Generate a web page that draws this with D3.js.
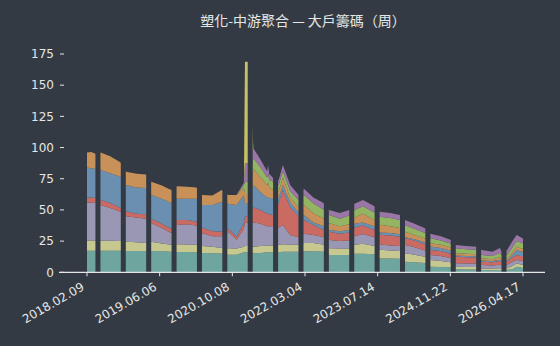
<!DOCTYPE html>
<html>
<head>
<meta charset="utf-8">
<script src="https://cdn.jsdelivr.net/npm/d3@7"></script>
<style>
  html, body { margin: 0; padding: 0; background: #333a43; }
  svg { display: block; }
  text { font-family: "DejaVu Sans", sans-serif; }
</style>
</head>
<body>
<svg id="chart" width="560" height="346"></svg>
<script>
// week index of each sample
const weeks = [0, 4, 8, 13, 22, 32, 37, 47, 56, 61, 71, 80, 85, 95, 104, 109, 119, 128, 134, 142, 149, 150, 153,
  158, 165, 171, 172, 173, 177, 182, 186, 193, 201, 206, 215, 225, 230, 240, 249, 254, 262, 273,
  278, 288, 297, 302, 311, 321, 326, 336, 345, 350, 360, 370, 375, 385, 392, 394, 399, 404, 408, 411, 414];

const teal = [17.3, 17.3, 17.3, 17.3, 17.3, 17.3, 17.0, 17.0, 17.0, 17.0, 16.8, 16.5, 16.3, 16.2, 16.0, 15.5, 15.2, 15.0, 14.0, 14.0, 16.0, 16.0, 16.0,
  15.2, 15.5, 16.0, 16.0, 16.0, 16.0, 16.0, 16.5, 16.5, 16.5, 16.8, 16.8, 16.5, 13.9, 13.9, 13.8, 14.8, 14.8, 14.5,
  11.2, 11.0, 10.8, 8.5, 8.0, 7.5, 4.5, 4.2, 4.0, 2.4, 2.3, 2.2, 1.8, 1.7, 1.8, 1.7, 2.0, 2.5, 4.5, 4.0, 3.5];
const cream = [8.0, 8.2, 8.2, 8.2, 8.0, 7.7, 7.5, 7.0, 6.5, 7.5, 6.2, 5.5, 6.2, 6.1, 6.0, 5.5, 5.3, 4.5, 5.2, 5.0, 4.5, 5.0, 5.0,
  5.3, 5.5, 5.5, 5.5, 5.5, 5.5, 6.0, 6.0, 5.5, 5.5, 6.7, 6.7, 5.5, 5.3, 5.1, 5.2, 7.2, 8.0, 6.5,
  6.9, 6.5, 6.2, 6.7, 6.0, 5.0, 5.4, 4.8, 4.0, 2.1, 2.0, 2.0, 1.3, 1.3, 1.4, 1.3, 1.5, 2.5, 2.7, 2.5, 2.5];
const lavender = [30.7, 30.5, 30.0, 28.5, 26.2, 23.6, 20.5, 20.0, 19.5, 15.0, 12.5, 9.5, 15.5, 16.2, 15.5, 10.5, 8.5, 9.5, 13.4, 7.0, 14.5, 19.0, 19.0,
  19.5, 18.0, 15.5, 15.5, 15.5, 15.5, 14.0, 15.5, 8.0, 6.0, 7.5, 6.5, 6.0, 6.7, 6.0, 6.5, 7.0, 8.0, 7.0,
  4.1, 4.0, 4.0, 6.6, 6.0, 5.0, 4.0, 4.0, 3.5, 2.7, 2.7, 2.8, 2.7, 2.5, 2.8, 2.5, 2.5, 3.5, 2.7, 3.0, 3.0];
const red = [4.0, 4.0, 4.0, 4.0, 4.0, 2.9, 4.0, 3.0, 3.5, 3.5, 3.5, 3.5, 4.0, 3.5, 3.0, 4.5, 4.0, 3.5, 2.4, 2.5, 4.5, 5.0, 5.0,
  12.0, 11.0, 10.0, 10.0, 9.5, 9.0, 20.0, 28.0, 22.0, 17.0, 11.0, 8.0, 6.0, 6.7, 6.0, 6.5, 7.0, 6.7, 6.0,
  8.0, 8.0, 7.5, 5.4, 5.5, 5.0, 4.0, 4.0, 3.5, 5.4, 5.0, 4.8, 2.7, 2.5, 3.0, 2.5, 2.5, 3.5, 4.0, 3.5, 4.0];
const blue = [24.0, 23.5, 23.5, 24.0, 24.0, 25.1, 21.0, 21.0, 21.0, 19.0, 20.0, 20.5, 17.0, 17.0, 18.5, 18.0, 21.0, 24.0, 20.0, 25.5, 22.5, 10.0, 10.0,
  18.0, 14.0, 13.0, 13.0, 13.0, 13.3, 4.0, 4.0, 4.0, 3.0, 4.0, 2.0, 3.0, 1.4, 2.0, 2.0, 3.0, 2.5, 3.0,
  1.8, 2.0, 2.0, 0.8, 1.0, 1.5, 2.7, 2.5, 2.5, 0.9, 1.0, 1.0, 1.0, 1.0, 1.0, 1.0, 1.0, 2.0, 4.0, 4.0, 3.5];
const orange = [12.0, 13.0, 12.0, 14.0, 13.5, 11.4, 10.7, 11.0, 11.0, 10.6, 10.5, 10.5, 10.0, 9.5, 9.0, 8.0, 7.5, 9.5, 7.0, 8.0, 6.0, 8.5, 8.5,
  13.0, 12.0, 10.0, 12.0, 8.5, 6.7, 5.0, 6.0, 4.0, 4.0, 8.0, 7.4, 6.0, 5.3, 4.0, 4.5, 5.0, 7.0, 5.0,
  6.2, 5.5, 5.0, 4.6, 3.5, 3.0, 2.7, 2.5, 2.5, 1.7, 1.8, 1.7, 1.7, 1.5, 2.0, 1.5, 1.5, 2.0, 2.7, 2.5, 2.5];
const green = [0, 0, 0, 0, 0, 0, 0, 0, 0, 0, 0, 0, 0, 0, 0, 0, 0, 0, 0, 0, 2.0, 9.1, 9.1,
  8.4, 8.0, 6.0, 7.0, 6.0, 6.6, 5.0, 5.0, 5.0, 6.0, 8.0, 8.0, 7.0, 6.7, 6.0, 7.0, 6.0, 6.0, 6.0,
  6.4, 6.5, 6.5, 5.2, 5.0, 4.5, 4.0, 3.5, 3.0, 4.0, 3.7, 3.5, 2.7, 2.5, 3.5, 2.5, 3.0, 4.0, 4.4, 4.5, 4.0];
const purple = [0, 0, 0, 0, 0, 0, 0, 0, 0, 0, 0, 0, 0, 0, 0, 0, 0, 0, 0, 0, 2.0, 14.8, 14.8,
  8.0, 6.0, 5.0, 7.0, 5.0, 2.8, 4.0, 5.0, 5.0, 4.0, 5.0, 4.6, 5.4, 4.0, 4.5, 4.5, 5.0, 5.0, 5.0,
  4.0, 4.0, 3.9, 4.2, 4.0, 3.8, 3.7, 3.5, 3.0, 2.7, 2.5, 2.5, 4.0, 3.5, 4.0, 3.0, 4.0, 5.0, 5.0, 4.5, 4.0];
const gold = [0, 0, 0, 0, 0, 0, 0, 0, 0, 0, 0, 0, 0, 0, 0, 0, 0, 0, 0, 0, 0, 81.4, 81.4,
  0, 0, 0, 0, 0, 0, 0, 0, 0, 0, 0, 0, 0, 0, 0, 0, 0, 0, 0,
  0, 0, 0, 0, 0, 0, 0, 0, 0, 0, 0, 0, 0, 0, 0, 0, 0, 0, 0, 0, 0];

const tickWeeks = [0, 69, 138, 207, 276, 345, 414];
const tickLabels = ['2018.02.09', '2019.06.06', '2020.10.08', '2022.03.04', '2023.07.14', '2024.11.22', '2026.04.17'];
const yTicks = [0, 25, 50, 75, 100, 125, 150, 175];

const layers = [
  { key: 'teal', values: teal, color: '#6ea59e' },
  { key: 'cream', values: cream, color: '#c6c890' },
  { key: 'lavender', values: lavender, color: '#9a97b5' },
  { key: 'red', values: red, color: '#c96a63' },
  { key: 'blue', values: blue, color: '#6a8fb0' },
  { key: 'orange', values: orange, color: '#c8915a' },
  { key: 'green', values: green, color: '#93b463' },
  { key: 'purple', values: purple, color: '#9a76a6' },
  { key: 'gold', values: gold, color: '#c8c064' },
];

const bg = '#333a43';
const fg = '#e6e6e6';

const rows = weeks.map((w, i) => {
  const r = { week: w };
  layers.forEach((l) => (r[l.key] = l.values[i]));
  return r;
});

const svg = d3.select('#chart');

const x = d3.scaleLinear().domain([0, 414]).range([87, 523]);
const y = d3.scaleLinear().domain([0, 175]).range([272.3, 54]);

const stack = d3.stack().keys(layers.map((l) => l.key));
const series = stack(rows);

const area = d3
  .area()
  .x((d) => x(d.data.week))
  .y0((d) => y(d[0]))
  .y1((d) => y(d[1]));

svg
  .append('g')
  .selectAll('path')
  .data(series)
  .join('path')
  .attr('fill', (d, i) => layers[i].color)
  .attr('d', area);

// dark vertical breaks every ~24 weeks
const gapStart = 8;
const gapEvery = 24.1;
const gapWidth = 4.75;
const gaps = d3.range(gapStart, 414, gapEvery);
svg
  .append('g')
  .selectAll('rect')
  .data(gaps)
  .join('rect')
  .attr('x', (d) => x(d))
  .attr('width', x(gapWidth) - x(0))
  .attr('y', y(175) - 5)
  .attr('height', y(0) - y(175) + 5)
  .attr('fill', bg);

// x axis
const xAxis = svg.append('g').attr('transform', `translate(0,${y(0)})`);
xAxis
  .append('line')
  .attr('x1', 59)
  .attr('x2', 545)
  .attr('stroke', fg)
  .attr('stroke-width', 1.2);
xAxis
  .selectAll('line.tick')
  .data(tickWeeks)
  .join('line')
  .attr('class', 'tick')
  .attr('x1', (d) => x(d))
  .attr('x2', (d) => x(d))
  .attr('y1', 0)
  .attr('y2', 4)
  .attr('stroke', fg);
xAxis
  .selectAll('text')
  .data(tickWeeks)
  .join('text')
  .attr('transform', (d) => `translate(${x(d) - 2},${17}) rotate(-30)`)
  .attr('text-anchor', 'end')
  .attr('fill', fg)
  .attr('font-size', 12)
  .text((d, i) => tickLabels[i]);

// y ticks
const yAxis = svg.append('g');
yAxis
  .selectAll('line')
  .data(yTicks)
  .join('line')
  .attr('x1', 60)
  .attr('x2', 64)
  .attr('y1', (d) => y(d))
  .attr('y2', (d) => y(d))
  .attr('stroke', fg);
yAxis
  .selectAll('text')
  .data(yTicks)
  .join('text')
  .attr('x', 54)
  .attr('y', (d) => y(d))
  .attr('dy', '0.35em')
  .attr('text-anchor', 'end')
  .attr('fill', fg)
  .attr('font-size', 12)
  .text((d) => d);

svg
  .append('text')
  .attr('x', 303)
  .attr('y', 26)
  .attr('text-anchor', 'middle')
  .attr('fill', fg)
  .attr('font-size', 14)
  .style('font-family', '"Noto Sans CJK TC", "Noto Sans CJK SC", sans-serif')
  .text('塑化-中游聚合 — 大戶籌碼（周）');
</script>
</body>
</html>
